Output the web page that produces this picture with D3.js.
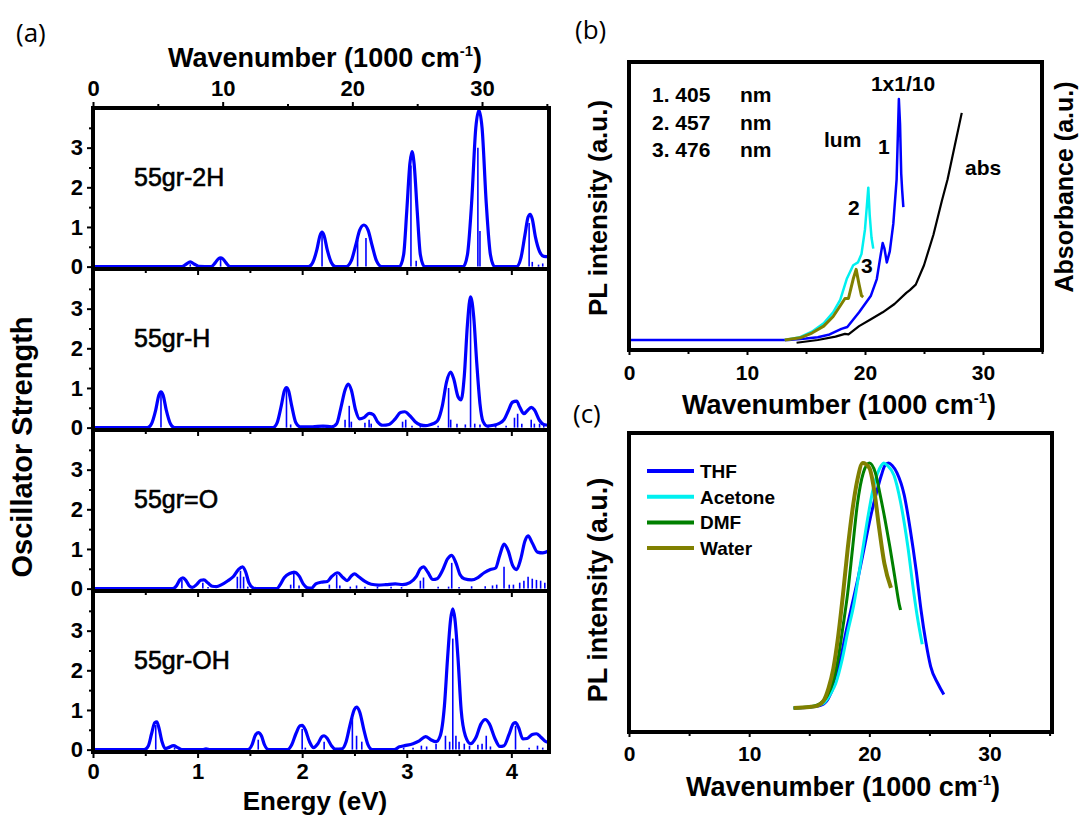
<!DOCTYPE html>
<html>
<head>
<meta charset="utf-8">
<script src="https://cdn.jsdelivr.net/npm/d3@7"></script>
<style>
body { margin: 0; background: #fff; }
text { font-family: "Liberation Sans", Arial, sans-serif; fill: #000; }
</style>
</head>
<body>
<div id="fig"></div>
<script>
// ---- (a) computed spectra: [energy eV, oscillator strength] ----
var molNames = ["55gr-2H", "55gr-H", "55gr=O", "55gr-OH"];

var env2H = [[0,0],[0.85,0],[0.89,0.06],[0.93,0.12],[0.97,0.06],[1.01,0.01],[1.13,0],[1.17,0.1],[1.20,0.2],[1.22,0.22],[1.24,0.2],[1.27,0.1],[1.31,0],
  [2.06,0],[2.10,0.1],[2.14,0.42],[2.17,0.78],[2.19,0.87],[2.21,0.78],[2.24,0.42],[2.28,0.1],[2.32,0],
  [2.42,0],[2.47,0.15],[2.51,0.52],[2.55,0.92],[2.59,1.05],[2.63,0.92],[2.67,0.52],[2.71,0.15],[2.76,0],
  [2.93,0],[2.97,0.3],[3.00,1.4],[3.03,2.6],[3.05,2.9],[3.07,2.6],[3.10,1.4],[3.13,0.3],[3.17,0],
  [3.54,0],[3.58,0.3],[3.62,1.6],[3.66,3.5],[3.69,3.95],[3.72,3.5],[3.76,1.6],[3.80,0.3],[3.84,0],
  [4.05,0],[4.09,0.2],[4.13,0.8],[4.16,1.25],[4.18,1.32],[4.20,1.2],[4.23,0.75],[4.27,0.38],[4.31,0.26],[4.36,0.25]];
var sticks2H = [[0.93,0.06],[1.22,0.2],[2.19,0.82],[2.53,0.68],[2.61,0.72],[3.04,2.55],[3.09,0.15],[3.68,3.0],[3.70,0.9],
  [4.17,1.1],[4.20,0.12],[4.26,0.05],[4.30,0.08]];

var envH = [[0,0],[0.52,0],[0.56,0.1],[0.60,0.45],[0.63,0.82],[0.65,0.9],[0.67,0.82],[0.70,0.45],[0.74,0.1],[0.78,0],
  [1.72,0],[1.76,0.12],[1.80,0.55],[1.83,0.93],[1.85,1.01],[1.87,0.93],[1.90,0.55],[1.94,0.12],[1.98,0.02],
  [2.1,0.02],[2.2,0.04],[2.28,0.02],[2.33,0.1],[2.37,0.5],[2.41,0.95],[2.44,1.1],[2.47,0.95],[2.51,0.45],[2.55,0.22],
  [2.59,0.25],[2.64,0.36],[2.68,0.33],[2.72,0.15],[2.77,0.06],[2.83,0.08],[2.89,0.22],[2.94,0.38],[2.98,0.4],[3.03,0.3],
  [3.08,0.15],[3.13,0.07],[3.18,0.05],[3.23,0.08],[3.27,0.12],[3.30,0.2],[3.34,0.55],[3.38,1.15],[3.42,1.4],[3.45,1.22],
  [3.49,0.78],[3.52,0.7],[3.55,1.3],[3.58,2.6],[3.61,3.3],[3.64,2.8],[3.67,1.6],[3.70,0.6],[3.73,0.15],[3.77,0.04],
  [3.83,0.06],[3.88,0.1],[3.93,0.2],[3.97,0.42],[4.01,0.64],[4.05,0.67],[4.08,0.52],[4.12,0.35],[4.15,0.42],[4.19,0.51],
  [4.22,0.45],[4.27,0.18],[4.31,0.08],[4.36,0.06]];
var sticksH = [[0.65,0.85],[1.85,0.95],[1.89,0.08],[2.2,0.03],[2.41,0.2],[2.45,0.55],[2.47,0.15],[2.60,0.12],[2.64,0.2],
  [2.66,0.1],[2.96,0.15],[2.99,0.2],[3.05,0.05],[3.13,0.06],[3.3,0.05],[3.40,1.0],[3.42,0.2],[3.48,0.1],[3.56,0.08],
  [3.61,3.2],[3.65,0.1],[3.70,0.08],[3.78,0.05],[3.85,0.05],[3.95,0.05],[4.03,0.25],[4.06,0.35],[4.10,0.1],[4.19,0.2],
  [4.22,0.1],[4.27,0.1],[4.31,0.08]];

var envO = [[0,0],[0.76,0],[0.80,0.08],[0.83,0.22],[0.86,0.27],[0.89,0.2],[0.92,0.07],[0.95,0.03],[0.99,0.1],[1.03,0.21],
  [1.06,0.22],[1.10,0.14],[1.14,0.06],[1.18,0.05],[1.23,0.1],[1.29,0.2],[1.34,0.3],[1.39,0.48],[1.43,0.55],[1.46,0.42],
  [1.49,0.15],[1.53,0.02],[1.56,0],[1.76,0],[1.79,0.1],[1.83,0.28],[1.88,0.38],[1.93,0.41],[1.97,0.32],[2.01,0.12],
  [2.05,0.02],[2.09,0.01],[2.13,0.12],[2.18,0.16],[2.24,0.18],[2.28,0.3],[2.34,0.4],[2.39,0.28],[2.43,0.2],[2.47,0.32],
  [2.50,0.37],[2.54,0.3],[2.60,0.18],[2.66,0.11],[2.73,0.09],[2.80,0.1],[2.89,0.12],[2.96,0.1],[3.03,0.15],[3.09,0.3],
  [3.13,0.5],[3.16,0.55],[3.20,0.42],[3.25,0.23],[3.29,0.25],[3.34,0.45],[3.39,0.75],[3.43,0.84],[3.47,0.65],[3.51,0.35],
  [3.55,0.25],[3.62,0.22],[3.68,0.28],[3.74,0.4],[3.80,0.48],[3.85,0.52],[3.89,0.85],[3.93,1.12],[3.97,0.95],[4.01,0.6],
  [4.05,0.48],[4.09,0.75],[4.13,1.2],[4.16,1.33],[4.20,1.15],[4.25,0.92],[4.30,0.9],[4.36,0.96]];
var sticksO = [[0.85,0.22],[1.05,0.15],[1.10,0.04],[1.38,0.3],[1.41,0.45],[1.44,0.3],[1.48,0.05],[1.89,0.1],[1.92,0.45],
  [1.97,0.08],[2.26,0.1],[2.33,0.35],[2.36,0.08],[2.46,0.05],[2.52,0.08],[2.60,0.05],[2.72,0.05],[2.85,0.05],[2.95,0.04],
  [3.13,0.2],[3.16,0.28],[3.30,0.05],[3.40,0.05],[3.43,0.65],[3.50,0.04],[3.62,0.06],[3.75,0.06],[3.82,0.08],[3.86,0.1],
  [3.93,0.55],[3.98,0.1],[4.02,0.1],[4.08,0.15],[4.12,0.2],[4.16,0.3],[4.20,0.25],[4.24,0.22],[4.28,0.2],[4.32,0.15]];

var envOH = [[0,0],[0.49,0],[0.53,0.1],[0.56,0.4],[0.59,0.68],[0.61,0.7],[0.63,0.55],[0.66,0.2],[0.69,0.03],[0.72,0.05],
  [0.77,0.1],[0.81,0.05],[0.85,0],[1.05,0],[1.08,0.02],[1.12,0],[1.48,0],[1.52,0.12],[1.55,0.35],[1.58,0.43],[1.61,0.35],
  [1.64,0.12],[1.68,0],[1.86,0],[1.90,0.12],[1.94,0.4],[1.98,0.6],[2.00,0.61],[2.03,0.5],[2.07,0.2],[2.11,0.05],
  [2.15,0.15],[2.19,0.33],[2.21,0.35],[2.24,0.28],[2.28,0.1],[2.32,0.01],[2.38,0.02],[2.42,0.2],[2.46,0.65],[2.50,1.02],
  [2.52,1.07],[2.55,0.95],[2.59,0.5],[2.63,0.12],[2.67,0],[2.88,0],[2.93,0.07],[2.98,0.1],[3.06,0.15],[3.12,0.22],
  [3.18,0.33],[3.23,0.25],[3.28,0.2],[3.32,0.35],[3.36,1.1],[3.39,2.3],[3.42,3.3],[3.44,3.55],[3.46,3.3],[3.49,2.3],
  [3.52,1.0],[3.56,0.35],[3.61,0.15],[3.66,0.3],[3.71,0.65],[3.75,0.76],[3.79,0.65],[3.84,0.3],[3.89,0.08],[3.93,0.1],
  [3.98,0.4],[4.02,0.66],[4.04,0.68],[4.07,0.55],[4.11,0.27],[4.15,0.28],[4.20,0.38],[4.24,0.4],[4.28,0.32],[4.33,0.2],[4.36,0.18]];
var sticksOH = [[0.60,0.62],[0.78,0.05],[1.58,0.25],[2.00,0.52],[2.03,0.05],[2.21,0.2],[2.48,0.8],[2.52,0.35],[2.57,0.2],
  [2.97,0.05],[3.06,0.05],[3.14,0.1],[3.19,0.08],[3.28,0.15],[3.37,0.35],[3.41,0.2],[3.44,2.8],[3.47,0.35],[3.50,0.2],
  [3.55,0.15],[3.60,0.1],[3.68,0.12],[3.72,0.15],[3.76,0.35],[3.80,0.08],[4.04,0.6],[4.17,0.05],[4.25,0.1],[4.30,0.05]];

var envelopes = [env2H, envH, envO, envOH];
var stickSets = [sticks2H, sticksH, sticksO, sticksOH];
var energyTicks = [0, 1, 2, 3, 4];
var wnTopTicks = [0, 10, 20, 30];
var strengthTicks = [0, 1, 2, 3];

// ---- (b) PL and absorbance: [wavenumber 1000 cm-1, a.u.] ----
var lum405 = [[0,0],[13.5,0],[15,0.005],[16,0.01],[17,0.02],[18,0.04],[18.5,0.047],[19.5,0.1],[20.5,0.16],[21,0.22],
  [21.3,0.3],[21.5,0.35],[21.65,0.33],[21.85,0.28],[22.1,0.32],[22.4,0.42],[22.68,0.58],[22.87,0.87],[22.97,0.78],
  [23.07,0.6],[23.15,0.54],[23.25,0.48]];
var lum457 = [[13.2,0],[14.5,0.01],[15.5,0.03],[16.5,0.06],[17.3,0.1],[17.9,0.145],[18.45,0.22],[19.0,0.27],[19.4,0.28],
  [19.7,0.31],[20.0,0.4],[20.15,0.48],[20.28,0.55],[20.4,0.45],[20.55,0.37],[20.7,0.33]];
var lum476 = [[13.2,0],[14.5,0.008],[15.5,0.025],[16.5,0.05],[17.3,0.085],[18.0,0.13],[18.3,0.15],[18.6,0.15],[19.0,0.22],
  [19.25,0.255],[19.5,0.2],[19.7,0.16],[19.85,0.155]];
var absorb = [[14.2,-0.01],[16,0.0],[17.5,0.012],[18.3,0.022],[18.6,0.02],[19.5,0.05],[20.5,0.075],[21.5,0.1],[22.5,0.13],
  [23.5,0.17],[23.8,0.18],[24.3,0.2],[25,0.27],[25.8,0.38],[26.5,0.5],[27,0.58],[27.6,0.7],[28.2,0.82]];
var excitation = ["1. 405", "2. 457", "3. 476"];
var wnTicks = [0, 10, 20, 30];

// ---- (c) PL in solvents ----
var solvents = ["THF", "Acetone", "DMF", "Water"];
var plTHF = [[13.7,0],[15.0,0.003],[16.0,0.012],[16.6,0.04],[17.1,0.1],[17.6,0.2],[18.1,0.32],[18.6,0.43],[19.1,0.54],
  [19.6,0.66],[20.1,0.78],[20.6,0.88],[21.0,0.95],[21.3,0.99],[21.6,1.0],[21.9,0.99],[22.3,0.96],[22.9,0.87],[23.4,0.73],
  [23.9,0.56],[24.3,0.4],[24.7,0.27],[25.1,0.17],[25.7,0.1],[26.2,0.055]];
var plAcetone = [[13.7,0],[15.0,0.004],[16.2,0.02],[16.8,0.06],[17.2,0.1],[17.75,0.2],[18.2,0.31],[18.7,0.42],[19.3,0.6],
  [19.85,0.77],[20.3,0.89],[20.7,0.96],[21.0,0.99],[21.2,1.0],[21.5,0.99],[22.05,0.95],[22.6,0.84],[23.2,0.66],[23.7,0.47],
  [24.0,0.37],[24.4,0.26]];
var plDMF = [[13.7,0],[15.0,0.004],[15.8,0.015],[16.5,0.05],[17.0,0.11],[17.4,0.2],[17.8,0.33],[18.2,0.47],[18.6,0.65],
  [19.0,0.83],[19.5,0.96],[20.0,1.0],[20.5,0.96],[20.9,0.87],[21.3,0.77],[21.7,0.66],[22.1,0.54],[22.5,0.42],[22.6,0.4]];
var plWater = [[13.7,0],[15.0,0.004],[15.7,0.01],[16.2,0.03],[16.6,0.08],[17.0,0.16],[17.4,0.29],[17.8,0.46],[18.2,0.65],
  [18.6,0.81],[19.0,0.93],[19.45,1.0],[20.0,0.98],[20.4,0.89],[20.8,0.74],[21.25,0.59],[21.8,0.49]];
var solventData = [plTHF, plAcetone, plDMF, plWater];
var solventColors = ["#0000ff", "#00f0f0", "#008000", "#808000"];

var blue = "#0000ff";

var svg = d3.select("#fig").append("svg")
    .attr("width", 1082)
    .attr("height", 816);
svg.append("rect").attr("width", 1082).attr("height", 816).style("fill", "#fff");
var defs = svg.append("defs");

function styleAxis(g, size) {
    g.select(".domain").remove();
    g.selectAll(".tick line").style("stroke", "#000").style("stroke-width", 2);
    g.selectAll(".tick text")
        .style("font-size", size + "px")
        .style("font-weight", "bold")
        .style("font-family", "Liberation Sans, Arial, sans-serif");
}

function wnTitle(x, y, size) {
    var t = svg.append("text")
        .attr("x", x).attr("y", y)
        .attr("text-anchor", "middle")
        .style("font-size", size + "px")
        .style("font-weight", "bold");
    t.append("tspan").text("Wavenumber (1000 cm");
    t.append("tspan").attr("dy", -size * 0.42).style("font-size", (size * 0.55) + "px").text("-1");
    t.append("tspan").attr("dy", size * 0.42).text(")");
}

function vLabel(x, y, str, size) {
    svg.append("text")
        .attr("transform", "translate(" + x + "," + y + ") rotate(-90)")
        .attr("text-anchor", "middle")
        .style("font-size", size + "px")
        .style("font-weight", "bold")
        .text(str);
}

function panelLetter(x, y, str) {
    svg.append("text")
        .attr("x", x).attr("y", y)
        .style("font-family", "Open Sans, sans-serif")
        .style("font-size", "26px")
        .text(str);
}

// ================= (a) =================
var aLeft = 93, aRight = 549, aTop = 108, aH = 161;
var xE = d3.scaleLinear().domain([0, 4.36]).range([aLeft, aRight]);
var xWn = d3.scaleLinear().domain([0, 4.36 * 8.0655]).range([aLeft, aRight]);
var lineA = d3.line()
    .x(function(d) { return xE(d[0]); })
    .curve(d3.curveMonotoneX);

molNames.forEach(function(name, i) {
    var top = aTop + i * aH;
    var y = d3.scaleLinear().domain([-0.06, 4.0]).range([top + aH, top]);

    defs.append("clipPath").attr("id", "clipA" + i)
        .append("rect")
        .attr("x", aLeft).attr("y", top)
        .attr("width", aRight - aLeft).attr("height", aH);

    var plot = svg.append("g").attr("clip-path", "url(#clipA" + i + ")");
    plot.selectAll(".stick")
        .data(stickSets[i])
        .enter().append("line")
        .attr("class", "stick")
        .attr("x1", function(d) { return xE(d[0]); })
        .attr("x2", function(d) { return xE(d[0]); })
        .attr("y1", y(0))
        .attr("y2", function(d) { return y(d[1]); })
        .style("stroke", blue)
        .style("stroke-width", 1.6);
    plot.append("path")
        .datum(envelopes[i])
        .attr("d", lineA.y(function(d) { return y(d[1]); }))
        .style("fill", "none")
        .style("stroke", blue)
        .style("stroke-width", 3.2)
        .style("stroke-linejoin", "round");

    var left = svg.append("g").attr("transform", "translate(" + aLeft + ",0)")
        .call(d3.axisLeft(y).tickValues(strengthTicks).tickSize(6).tickPadding(4).tickFormat(d3.format("d")));
    styleAxis(left, 22);
    var leftMinor = svg.append("g").attr("transform", "translate(" + aLeft + ",0)")
        .call(d3.axisLeft(y).tickValues([0.5, 1.5, 2.5, 3.5]).tickSize(4).tickFormat(""));
    styleAxis(leftMinor, 22);

    var bottom = svg.append("g").attr("transform", "translate(0," + (top + aH) + ")")
        .call(d3.axisBottom(xE).tickValues(energyTicks).tickSize(6).tickPadding(5)
            .tickFormat(i == 3 ? d3.format("d") : ""));
    styleAxis(bottom, 22);
    var bottomMinor = svg.append("g").attr("transform", "translate(0," + (top + aH) + ")")
        .call(d3.axisBottom(xE).tickValues([0.5, 1.5, 2.5, 3.5]).tickSize(4).tickFormat(""));
    styleAxis(bottomMinor, 22);

    svg.append("rect")
        .attr("x", aLeft).attr("y", top)
        .attr("width", aRight - aLeft).attr("height", aH)
        .style("fill", "none")
        .style("stroke", "#000")
        .style("stroke-width", 4);

    svg.append("text")
        .attr("x", 134).attr("y", top + 78)
        .style("font-size", "25px")
        .style("stroke", "#000")
        .style("stroke-width", 0.6)
        .text(name);
});

var topAxis = svg.append("g").attr("transform", "translate(0," + aTop + ")")
    .call(d3.axisTop(xWn).tickValues(wnTopTicks).tickSize(6).tickPadding(6).tickFormat(d3.format("d")));
styleAxis(topAxis, 22);
var topMinor = svg.append("g").attr("transform", "translate(0," + aTop + ")")
    .call(d3.axisTop(xWn).tickValues([5, 15, 25, 35]).tickSize(4).tickFormat(""));
styleAxis(topMinor, 22);

wnTitle(325, 67, 27);
svg.append("text")
    .attr("x", 315).attr("y", 810)
    .attr("text-anchor", "middle")
    .style("font-size", "26px")
    .style("font-weight", "bold")
    .text("Energy (eV)");
vLabel(32, 447, "Oscillator Strength", 29);
panelLetter(16, 42, "(a)");

// ================= (b) =================
var bLeft = 629, bRight = 1042, bTop = 62, bBottom = 350;
var xB = d3.scaleLinear().domain([0, 35]).range([bLeft, bRight]);
var yB = d3.scaleLinear().domain([0, 1]).range([340, 63]);
var lineB = d3.line()
    .x(function(d) { return xB(d[0]); })
    .y(function(d) { return yB(d[1]); });

defs.append("clipPath").attr("id", "clipB")
    .append("rect")
    .attr("x", bLeft).attr("y", bTop)
    .attr("width", bRight - bLeft).attr("height", bBottom - bTop);
var plotB = svg.append("g").attr("clip-path", "url(#clipB)");

var bSeries = [
    { data: absorb, color: "#000", w: 2.2 },
    { data: lum405, color: blue, w: 2.5 },
    { data: lum457, color: "#00f0f0", w: 2.5 },
    { data: lum476, color: "#808000", w: 3 }
];
plotB.selectAll(".bline")
    .data(bSeries)
    .enter().append("path")
    .attr("class", "bline")
    .attr("d", function(d) { return lineB(d.data); })
    .style("fill", "none")
    .style("stroke", function(d) { return d.color; })
    .style("stroke-width", function(d) { return d.w; })
    .style("stroke-linejoin", "round");

var axB = svg.append("g").attr("transform", "translate(0," + bBottom + ")")
    .call(d3.axisBottom(xB).tickValues(wnTicks).tickSize(5).tickPadding(10).tickFormat(d3.format("d")));
styleAxis(axB, 21);
var axBMinor = svg.append("g").attr("transform", "translate(0," + bBottom + ")")
    .call(d3.axisBottom(xB).tickValues([5, 15, 25, 35]).tickSize(4).tickFormat(""));
styleAxis(axBMinor, 21);

svg.append("rect")
    .attr("x", bLeft).attr("y", bTop)
    .attr("width", bRight - bLeft).attr("height", bBottom - bTop)
    .style("fill", "none")
    .style("stroke", "#000")
    .style("stroke-width", 4);

excitation.forEach(function(s, i) {
    svg.append("text").attr("x", 652).attr("y", 102 + i * 27.5)
        .style("font-size", "21px").style("font-weight", "bold").text(s);
    svg.append("text").attr("x", 740).attr("y", 102 + i * 27.5)
        .style("font-size", "21px").style("font-weight", "bold").text("nm");
});
var bNotes = [
    { t: "1x1/10", x: 903, y: 91, a: "middle" },
    { t: "lum", x: 824, y: 147, a: "start" },
    { t: "1", x: 878, y: 154, a: "start" },
    { t: "abs", x: 965, y: 175, a: "start" },
    { t: "2", x: 848, y: 215, a: "start" },
    { t: "3", x: 861, y: 273, a: "start" }
];
bNotes.forEach(function(n) {
    svg.append("text").attr("x", n.x).attr("y", n.y)
        .attr("text-anchor", n.a)
        .style("font-size", "21px").style("font-weight", "bold").text(n.t);
});

wnTitle(839, 414, 27);
vLabel(607, 208, "PL intensity (a.u.)", 26);
vLabel(1073, 187, "Absorbance (a.u.)", 25);
panelLetter(575, 39, "(b)");

// ================= (c) =================
var cLeft = 629, cRight = 1052, cTop = 433, cBottom = 732;
var xC = d3.scaleLinear().domain([0, 35.2]).range([cLeft, cRight]);
var yC = d3.scaleLinear().domain([0, 1]).range([708, 463]);
var lineC = d3.line()
    .x(function(d) { return xC(d[0]); })
    .y(function(d) { return yC(d[1]); })
    .curve(d3.curveMonotoneX);

defs.append("clipPath").attr("id", "clipC")
    .append("rect")
    .attr("x", cLeft).attr("y", cTop)
    .attr("width", cRight - cLeft).attr("height", cBottom - cTop);
var plotC = svg.append("g").attr("clip-path", "url(#clipC)");
plotC.selectAll(".cline")
    .data(solventData)
    .enter().append("path")
    .attr("class", "cline")
    .attr("d", lineC)
    .style("fill", "none")
    .style("stroke", function(d, i) { return solventColors[i]; })
    .style("stroke-width", function(d, i) { return i == 3 ? 4 : 3; })
    .style("stroke-linejoin", "round");

var axC = svg.append("g").attr("transform", "translate(0," + cBottom + ")")
    .call(d3.axisBottom(xC).tickValues(wnTicks).tickSize(5).tickPadding(9).tickFormat(d3.format("d")));
styleAxis(axC, 21);
var axCMinor = svg.append("g").attr("transform", "translate(0," + cBottom + ")")
    .call(d3.axisBottom(xC).tickValues([5, 15, 25, 35]).tickSize(4).tickFormat(""));
styleAxis(axCMinor, 21);

svg.append("rect")
    .attr("x", cLeft).attr("y", cTop)
    .attr("width", cRight - cLeft).attr("height", cBottom - cTop)
    .style("fill", "none")
    .style("stroke", "#000")
    .style("stroke-width", 4);

var legend = svg.append("g").selectAll(".leg")
    .data(solvents)
    .enter().append("g")
    .attr("class", "leg")
    .attr("transform", function(d, i) { return "translate(647," + (471 + i * 25.7) + ")"; });
legend.append("line")
    .attr("x1", 0).attr("x2", 47)
    .style("stroke", function(d, i) { return solventColors[i]; })
    .style("stroke-width", 4);
legend.append("text")
    .attr("x", 53).attr("y", 7)
    .style("font-size", "19px")
    .style("font-weight", "bold")
    .text(function(d) { return d; });

wnTitle(843, 796, 27);
vLabel(607, 590, "PL intensity (a.u.)", 27);
panelLetter(573, 423, "(c)");
</script>
</body>
</html>
